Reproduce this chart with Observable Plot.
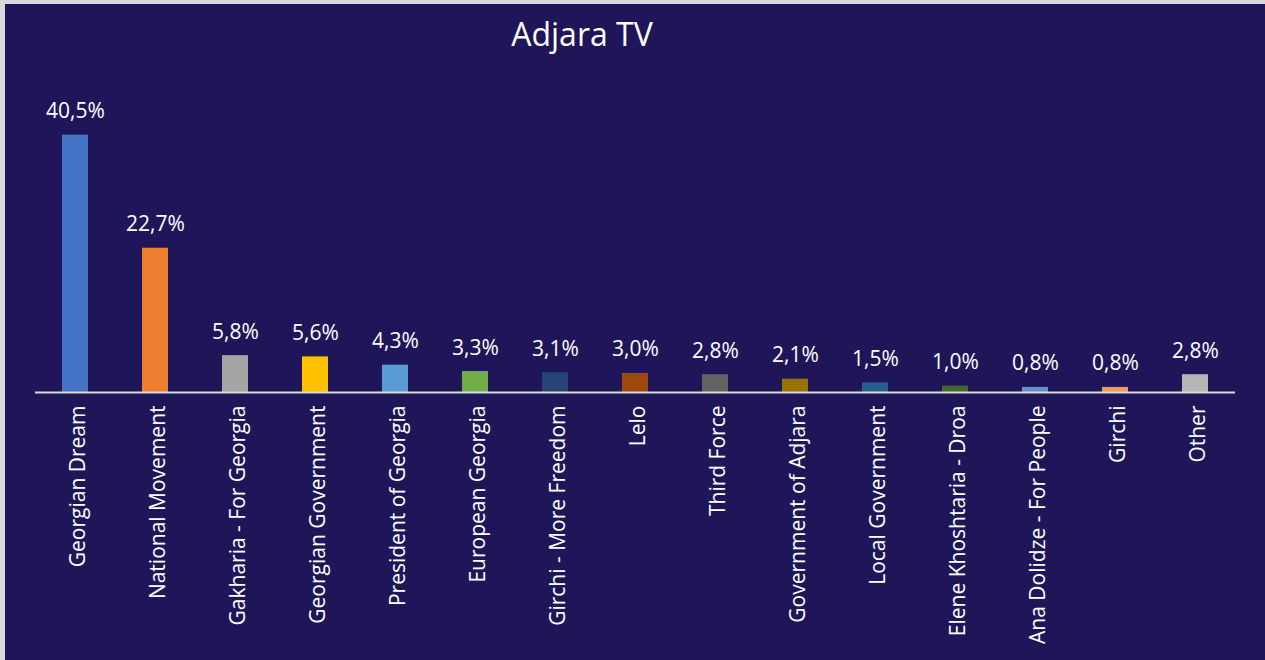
<!DOCTYPE html>
<html>
<head>
<meta charset="utf-8">
<script src="https://cdn.jsdelivr.net/npm/d3@7"></script>
<script src="https://cdn.jsdelivr.net/npm/@observablehq/plot@0.6"></script>
<style>
  html, body { margin: 0; padding: 0; background: #1f1659; }
  #wrap { position: relative; width: 1265px; height: 660px; overflow: hidden; background: #1f1659; font-family: "Open Sans", sans-serif; }
  #title { position: absolute; left: 0; width: 1164px; top: 11px; text-align: center; color: #ffffff; font-size: 32px; line-height: 46px; }
  #frame { position: absolute; left: 0; top: 0; width: 1265px; height: 660px; box-sizing: border-box; border-left: 5px solid #d9d9d9; border-top: 4px solid #d9d9d9; pointer-events: none; }
  #chart { position: absolute; left: 0; top: 0; }
</style>
</head>
<body>
<div id="wrap">
  <div id="chart"></div>
  <div id="title">Adjara TV</div>
  <div id="frame"></div>
</div>
<script>
const categories = [
  "Georgian Dream", "National Movement", "Gakharia - For Georgia", "Georgian Government",
  "President of Georgia", "European Georgia", "Girchi - More Freedom", "Lelo",
  "Third Force", "Government of Adjara", "Local Government", "Elene Khoshtaria - Droa",
  "Ana Dolidze - For People", "Girchi", "Other"
];
const values = [40.5, 22.7, 5.8, 5.6, 4.3, 3.3, 3.1, 3.0, 2.8, 2.1, 1.5, 1.0, 0.8, 0.8, 2.8];
const colors = [
  "#4472C4", "#ED7D31", "#A5A5A5", "#FFC000", "#5B9BD5", "#70AD47", "#264478", "#9E480E",
  "#636363", "#997300", "#255E91", "#43682B", "#698ED0", "#F1975A", "#B7B7B7"
];

const data = categories.map((c, i) => ({ name: c, value: values[i], color: colors[i] }));
const fmt = v => v.toFixed(1).replace(".", ",") + "%";

const chart = Plot.plot({
  width: 1265,
  height: 660,
  marginLeft: 35,
  marginRight: 30,
  marginTop: 106,
  marginBottom: 268,
  style: { background: "transparent", color: "#ffffff", fontFamily: "Open Sans, sans-serif", fontSize: "21px" },
  x: { domain: categories, paddingInner: 0.675, paddingOuter: 0.3375, label: null },
  y: { domain: [0, 45], axis: null },
  marks: [
    Plot.axisX({ tickSize: 0, tickPadding: 13, tickRotate: -90, dx: 3, label: null }),
    Plot.barY(data, { x: "name", y: "value", fill: "color" }),
    Plot.ruleY([0], { stroke: "#d9d9d9", strokeWidth: 2 }),
    Plot.text(data, { x: "name", y: "value", text: d => fmt(d.value), dy: -17, lineAnchor: "bottom", fill: "#ffffff", fontSize: 21 })
  ]
});
document.getElementById("chart").appendChild(chart);
</script>
</body>
</html>
